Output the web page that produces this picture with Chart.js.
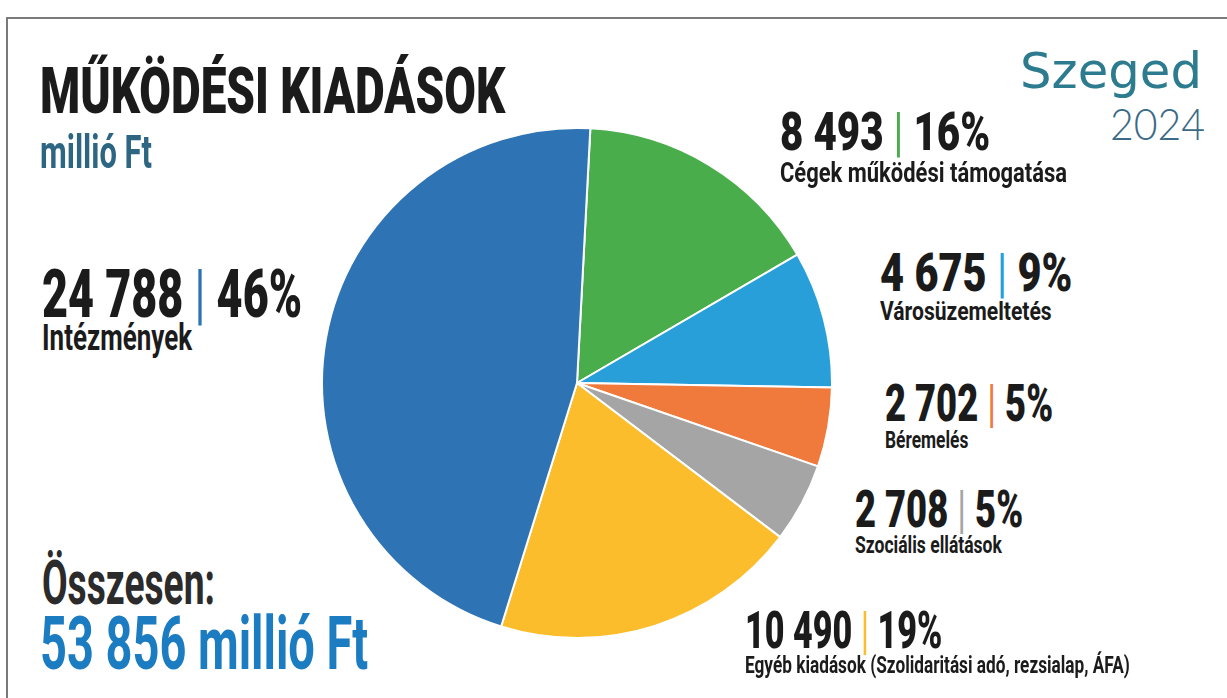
<!DOCTYPE html>
<html lang="hu">
<head>
<meta charset="utf-8">
<title>Működési kiadások</title>
<script src="https://cdn.jsdelivr.net/npm/chart.js@4.4.1/dist/chart.umd.min.js"></script>
<style>
  html, body { margin: 0; padding: 0; background: #fff; width: 1227px; height: 698px; overflow: hidden; }
  #frame { position: absolute; left: 6px; top: 17px; right: 0; bottom: 0; border-left: 2px solid #7a7a7a; border-top: 2px solid #7a7a7a; }
  .t { position: absolute; white-space: nowrap; line-height: normal; font-family: Roboto, "DejaVu Sans", sans-serif; font-weight: 700; transform-origin: 0 0; }
  #pie { position: absolute; left: 321px; top: 127px; }
</style>
</head>
<body>
<div id="frame"></div>
<canvas id="pie" width="512" height="512"></canvas>
<div id="texts"></div>
<script>
// data, clockwise from the top
const categories = ['Cégek működési támogatása', 'Városüzemeltetés', 'Béremelés', 'Szociális ellátások', 'Egyéb kiadások (Szolidaritási adó, rezsialap, ÁFA)', 'Intézmények'];
const values = [8493, 4675, 2702, 2708, 10490, 24788];
const colors = ['#4aad4b', '#289fd9', '#f07a3b', '#a5a5a5', '#fbbd2b', '#2e74b5'];

const title = 'MŰKÖDÉSI KIADÁSOK';
const unit = 'millió Ft';
const totalLabel = 'Összesen:';

// where each slice label sits (left x, baseline y, size, fitted width)
const labelLayout = [
  { x: 780, base: 150, size: 53, w: 210, subBase: 182, subSize: 27, subW: 287 },
  { x: 880, base: 291, size: 53, w: 192, subBase: 320, subSize: 26, subW: 172 },
  { x: 885, base: 421, size: 51, w: 168, subBase: 448, subSize: 23, subW: 83 },
  { x: 855, base: 527, size: 51, w: 168, subBase: 553, subSize: 23, subW: 147 },
  { x: 745, base: 648, size: 51, w: 197, subBase: 673, subSize: 23, subW: 385 },
  { x: 42, base: 317, size: 66, w: 260, subBase: 350, subSize: 36, subW: 150 }
];

const total = values.reduce((a, b) => a + b, 0);
const fmt = v => String(v).replace(/\B(?=(\d{3})+(?!\d))/g, ' ');

const mctx = document.createElement('canvas').getContext('2d');
const box = document.getElementById('texts');

function addText(html, o) {
  const el = document.createElement('div');
  el.className = 't';
  el.innerHTML = html;
  el.style.fontSize = o.size + 'px';
  el.style.color = o.color || '#1b1b1b';
  if (o.weight) el.style.fontWeight = o.weight;
  if (o.family) el.style.fontFamily = o.family;
  box.appendChild(el);
  const cs = getComputedStyle(el);
  mctx.font = `${cs.fontWeight} ${cs.fontSize} ${cs.fontFamily}`;
  const m = mctx.measureText(el.textContent);
  el.style.left = o.x + 'px';
  el.style.top = (o.base - m.fontBoundingBoxAscent) + 'px';
  if (o.w) el.style.transform = `scaleX(${o.w / el.offsetWidth})`;
}

addText(title, { x: 40, base: 113, size: 64, w: 465, weight: 900 });
addText(unit, { x: 40, base: 168, size: 46, w: 112, color: '#2d6683' });
addText(totalLabel, { x: 42, base: 604, size: 61, w: 173, color: '#2b2b2b' });
addText(fmt(total) + ' ' + unit, { x: 40, base: 669, size: 75, w: 328, color: '#1c7cc2' });

// logo
addText('Szeged', { x: 1020, base: 88, size: 50, w: 182, color: '#2c7b8e', weight: 400, family: '"DejaVu Sans", sans-serif' });
addText('2024', { x: 1110, base: 140, size: 44, w: 95, color: '#3a6a86', weight: 300, family: 'Lato, sans-serif' });

categories.forEach((name, i) => {
  const p = labelLayout[i];
  const pct = Math.round(values[i] / total * 100);
  const bar = `<span style="color:${colors[i]};font-weight:400"> | </span>`;
  addText(fmt(values[i]) + bar + pct + '%', { x: p.x, base: p.base, size: p.size, w: p.w, weight: 900 });
  addText(name, { x: p.x, base: p.subBase, size: p.subSize, w: p.subW });
});

new Chart(document.getElementById('pie'), {
  type: 'pie',
  data: {
    labels: categories,
    datasets: [{
      data: values,
      backgroundColor: colors,
      borderColor: '#ffffff',
      borderWidth: 2,
      hoverOffset: 0
    }]
  },
  options: {
    responsive: false,
    animation: false,
    rotation: 3,
    layout: { padding: 0 },
    plugins: {
      legend: { display: false },
      tooltip: { enabled: false }
    }
  }
});
</script>
</body>
</html>
